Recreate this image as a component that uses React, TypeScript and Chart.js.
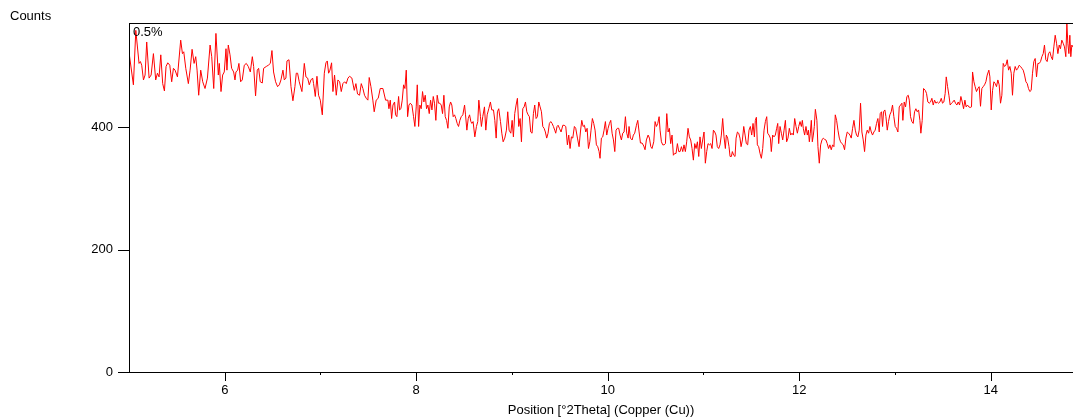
import React, { useEffect, useRef } from 'react';
import { Chart, registerables } from 'chart.js';

Chart.register(...registerables);

const twoTheta = [
  5.002,5.046,5.071,5.105,5.119,5.133,5.151,5.168,5.185,5.210,5.231,5.255,5.279,5.297,5.314,5.332,5.352,5.370,5.387,5.405,5.426,5.446,5.464,5.481,5.506,5.540,5.558,5.572,5.593,5.620,5.638,5.659,5.680,5.697,5.711,5.728,5.749,5.770,5.794,5.819,5.847,5.864,5.885,
  5.908,5.933,5.943,5.961,5.978,5.995,6.013,6.023,6.037,6.055,6.072,6.093,6.107,6.117,6.135,6.148,6.166,6.183,6.204,6.225,6.246,6.267,6.288,6.302,6.322,6.340,6.354,6.371,6.392,6.406,6.434,6.455,6.476,6.493,6.510,6.531,6.552,6.570,6.587,6.608,6.622,6.639,6.650,6.671,6.692,6.712,6.733,6.747,6.761,6.778,
  6.806,6.831,6.848,6.866,6.883,6.900,6.918,6.928,6.946,6.963,6.980,6.998,7.019,7.040,7.057,7.071,7.085,7.099,7.116,7.130,7.147,7.165,7.182,7.200,7.217,7.234,7.252,7.269,7.287,7.304,7.328,7.353,7.370,7.387,7.408,7.426,7.443,7.460,7.478,7.495,7.509,7.527,7.547,7.561,7.582,7.603,7.624,7.652,7.680,
  7.704,7.715,7.729,7.743,7.757,7.774,7.784,7.798,7.816,7.826,7.840,7.854,7.868,7.882,7.896,7.910,7.924,7.938,7.955,7.972,7.986,8.000,8.011,8.025,8.038,8.052,8.066,8.080,8.094,8.108,8.122,8.136,8.150,8.164,8.178,8.191,8.205,8.219,8.233,8.247,8.261,8.275,8.289,8.303,8.317,8.331,8.345,8.359,8.372,8.386,8.400,8.414,8.428,8.442,8.456,8.470,8.487,8.505,8.515,8.529,8.543,8.557,8.571,8.581,
  8.594,8.612,8.629,8.643,8.654,8.671,8.681,8.695,8.713,8.727,8.741,8.758,8.775,8.789,8.807,8.821,8.835,8.848,8.862,8.880,8.894,8.908,8.925,8.942,8.956,8.970,8.988,9.002,9.015,9.029,9.043,9.057,9.071,9.085,9.099,9.113,9.127,9.141,9.155,9.169,9.182,9.196,9.210,9.224,9.238,9.252,9.266,9.280,9.294,9.308,9.322,9.336,9.349,9.363,9.377,9.391,9.405,9.419,9.433,9.447,9.457,9.471,9.482,
  9.496,9.513,9.531,9.545,9.562,9.579,9.593,9.607,9.621,9.635,9.652,9.666,9.684,9.701,9.715,9.729,9.743,9.757,9.771,9.785,9.799,9.813,9.826,9.840,9.854,9.868,9.882,9.896,9.910,9.920,9.934,9.948,9.962,9.976,9.990,10.004,10.018,10.032,10.046,10.060,10.074,10.087,10.101,10.115,10.129,10.143,10.157,10.171,10.185,10.199,10.213,10.223,10.237,10.255,10.268,10.282,10.300,10.314,10.328,10.342,10.359,10.377,
  10.390,10.404,10.422,10.436,10.450,10.463,10.481,10.495,10.509,10.523,10.537,10.547,10.561,10.575,10.589,10.603,10.617,10.631,10.644,10.658,10.672,10.686,10.700,10.714,10.728,10.742,10.756,10.770,10.784,10.797,10.811,10.825,10.839,10.853,10.867,10.881,10.895,10.909,10.923,10.937,10.951,10.964,10.978,10.992,11.006,11.020,11.034,11.048,11.062,11.076,11.090,11.104,11.118,11.131,11.145,11.159,11.173,11.187,11.201,11.215,11.229,11.239,11.253,11.267,11.278,
  11.292,11.302,11.316,11.330,11.341,11.355,11.368,11.382,11.393,11.407,11.421,11.435,11.448,11.462,11.476,11.490,11.504,11.518,11.532,11.542,11.553,11.563,11.577,11.591,11.605,11.619,11.633,11.647,11.661,11.671,11.685,11.699,11.709,11.723,11.737,11.751,11.765,11.776,11.786,11.800,11.814,11.828,11.842,11.856,11.869,11.883,11.897,11.911,11.925,11.939,11.953,11.967,11.981,11.995,12.009,12.023,12.033,12.043,12.057,12.071,12.085,12.096,12.106,12.116,12.127,12.137,12.148,12.158,12.169,
  12.185,12.196,12.210,12.224,12.238,12.252,12.265,12.279,12.293,12.307,12.321,12.335,12.349,12.363,12.377,12.391,12.405,12.419,12.432,12.446,12.460,12.474,12.488,12.502,12.516,12.530,12.544,12.558,12.572,12.586,12.599,12.613,12.627,12.641,12.655,12.669,12.683,12.697,12.711,12.725,12.739,12.753,12.766,12.780,12.794,12.808,12.822,12.836,12.846,12.860,12.871,12.881,12.895,12.906,12.920,12.933,12.947,12.961,12.975,12.989,13.003,13.017,13.031,13.045,13.059,13.073,
  13.083,13.097,13.111,13.125,13.139,13.150,13.163,13.177,13.191,13.205,13.219,13.233,13.247,13.261,13.271,13.285,13.299,13.317,13.330,13.344,13.358,13.372,13.386,13.400,13.414,13.428,13.442,13.456,13.470,13.484,13.497,13.511,13.525,13.536,13.550,13.564,13.577,13.591,13.605,13.619,13.633,13.647,13.661,13.675,13.689,13.703,13.717,13.731,13.744,13.758,13.772,13.786,13.800,13.811,13.825,13.838,13.852,13.866,13.880,13.894,13.908,13.922,13.936,13.950,13.964,
  13.981,13.992,14.006,14.020,14.034,14.048,14.061,14.075,14.089,14.103,14.117,14.131,14.145,14.159,14.173,14.187,14.201,14.215,14.228,14.242,14.256,14.270,14.284,14.298,14.312,14.326,14.340,14.354,14.368,14.382,14.395,14.409,14.423,14.437,14.451,14.465,14.479,14.493,14.507,14.521,14.535,14.549,14.562,14.576,14.590,14.604,14.618,14.632,14.646,14.660,14.674,14.688,14.702,14.716,14.729,14.743,14.757,14.771,14.785,14.796,14.806,14.817,14.827,14.837,14.848,14.858,
];

const counts = [
  520,469,558,504,507,501,477,485,539,480,485,520,477,488,482,518,471,459,499,505,501,474,496,493,482,542,520,523,496,471,493,527,504,515,493,452,493,474,463,480,534,515,463,
  553,485,504,458,485,490,528,493,534,518,496,490,477,490,493,504,474,477,501,504,499,490,515,499,451,493,496,474,472,496,499,501,504,525,490,474,466,469,477,493,477,480,508,510,466,443,466,488,488,474,
  458,504,482,480,469,477,480,471,450,483,452,444,420,488,505,508,488,493,505,458,485,452,477,474,458,471,474,471,480,483,480,460,471,454,452,471,463,452,447,444,481,466,444,425,444,447,463,463,444,
  444,430,444,414,436,441,420,417,450,428,430,444,469,463,493,417,436,439,436,417,401,433,469,401,436,430,458,441,452,430,436,422,444,428,450,439,411,452,439,439,436,422,452,417,411,398,433,441,436,417,420,414,406,401,411,417,420,436,420,395,414,420,409,406,
  409,384,401,409,444,417,401,417,433,395,420,430,441,428,428,411,382,425,430,409,390,376,382,395,425,395,390,411,384,422,436,447,401,414,376,430,433,441,425,420,417,392,390,422,436,414,417,441,433,425,401,398,392,382,390,406,409,406,401,395,390,401,403,
  398,392,403,403,401,371,387,365,384,382,401,398,382,368,392,411,401,403,392,398,365,376,395,414,406,395,371,368,360,349,382,384,395,409,387,398,406,411,390,379,360,395,398,398,387,379,390,392,417,390,382,401,382,379,387,390,403,411,392,374,374,369,
  363,379,387,382,368,365,376,409,401,406,417,395,376,371,371,373,422,392,398,373,387,354,357,357,373,360,360,368,360,371,360,376,398,384,379,365,346,373,365,376,352,384,365,379,392,341,360,373,371,373,365,395,392,387,368,365,371,387,414,384,365,387,382,368,352,
  352,360,354,352,382,392,390,382,368,379,401,387,373,371,395,401,387,406,384,411,416,371,368,357,349,365,395,409,417,390,387,382,360,387,384,387,398,406,373,401,390,379,395,411,376,382,398,387,390,387,414,401,390,401,409,401,411,398,387,401,387,395,376,390,411,376,387,401,429,
  411,368,341,371,379,382,380,379,373,365,371,363,371,368,420,411,395,382,376,373,371,363,382,392,390,387,382,398,411,395,387,384,395,439,392,379,360,387,395,390,401,392,387,392,395,406,414,392,422,425,401,425,428,417,395,409,420,425,436,417,401,398,392,433,436,439,
  411,441,433,450,452,444,417,409,406,425,430,425,428,411,390,411,463,460,455,441,439,441,447,436,444,439,441,439,441,447,439,441,455,482,466,452,436,439,441,444,439,436,441,436,450,441,430,444,433,436,433,432,433,490,474,466,458,463,466,434,463,466,469,474,485,
  493,482,428,460,474,471,466,477,469,439,452,504,499,501,510,493,499,488,452,488,499,493,496,501,499,496,493,485,474,471,463,458,460,488,507,512,482,504,504,507,515,520,534,510,507,520,523,515,510,531,550,537,520,534,528,542,537,531,515,569,537,520,550,515,534,531,
];

const xMin = 5;
const xMax = 14.86;
const yMin = 0;
const yMax = 570;
const xTickValues = [5, 6, 7, 8, 9, 10, 11, 12, 13, 14];
const xLabelValues = [6, 8, 10, 12, 14];
const yTickValues = [0, 200, 400];
const xAxisTitle = 'Position [°2Theta] (Copper (Cu))';
const yAxisTitle = 'Counts';
const scanLabel = '0.5%';

const FONT = "'Liberation Sans', Arial, sans-serif";

const axesPlugin = {
  id: 'xrdAxes',
  afterDraw(chart: any) {
    const { ctx, chartArea: a, scales } = chart;
    const x = scales.x;
    const y = scales.y;
    ctx.save();
    ctx.strokeStyle = '#000';
    ctx.lineWidth = 1;
    ctx.beginPath();
    // frame: left axis, bottom axis, top border
    ctx.moveTo(a.left + 0.5, a.top);
    ctx.lineTo(a.left + 0.5, a.bottom + 1);
    ctx.moveTo(a.left, a.bottom + 0.5);
    ctx.lineTo(a.right, a.bottom + 0.5);
    ctx.moveTo(a.left, a.top + 0.5);
    ctx.lineTo(a.right, a.top + 0.5);
    // y ticks
    yTickValues.forEach((v) => {
      const py = Math.round(y.getPixelForValue(v)) + 0.5;
      ctx.moveTo(a.left - 11, py);
      ctx.lineTo(a.left, py);
    });
    // x ticks (major at labelled values, minor otherwise)
    xTickValues.forEach((v) => {
      if (v === xMin) return;
      const px = Math.round(x.getPixelForValue(v)) + 0.5;
      const len = xLabelValues.includes(v) ? 9 : 3;
      ctx.moveTo(px, a.bottom);
      ctx.lineTo(px, a.bottom + len);
    });
    ctx.stroke();

    ctx.fillStyle = '#000';
    ctx.font = `13px ${FONT}`;
    ctx.textBaseline = 'middle';
    ctx.textAlign = 'left';
    ctx.fillText(yAxisTitle, 10, 16);
    ctx.fillText(scanLabel, a.left + 4, a.top + 9);
    ctx.restore();
  },
};

export default function App() {
  const canvasRef = useRef<HTMLCanvasElement | null>(null);

  useEffect(() => {
    const canvas = canvasRef.current;
    if (!canvas) return;
    const points = twoTheta.map((t, i) => ({ x: t, y: counts[i] }));
    const chart = new Chart(canvas, {
      type: 'line',
      data: {
        datasets: [
          {
            label: 'scan',
            data: points,
            borderColor: '#ff0000',
            borderWidth: 1,
            pointRadius: 0,
            tension: 0,
            fill: false,
          },
        ],
      },
      options: {
        animation: false,
        responsive: false,
        devicePixelRatio: 1,
        layout: { padding: { top: 23, right: 0, left: 0, bottom: 0 } },
        plugins: {
          legend: { display: false },
          tooltip: { enabled: false },
        },
        scales: {
          x: {
            type: 'linear',
            position: 'bottom',
            min: xMin,
            max: xMax,
            afterBuildTicks: (s: any) => {
              s.ticks = xTickValues.map((v) => ({ value: v }));
            },
            afterFit: (s: any) => {
              s.height = 47;
            },
            grid: { display: true, drawOnChartArea: false, drawTicks: true, tickLength: 9, color: 'rgba(0,0,0,0)' },
            border: { display: false },
            ticks: {
              autoSkip: false,
              maxRotation: 0,
              padding: 2,
              color: '#000',
              font: { family: FONT, size: 13 },
              callback: (v: any) => (xLabelValues.includes(Number(v)) ? String(v) : ''),
            },
            title: {
              display: true,
              text: xAxisTitle,
              color: '#000',
              font: { family: FONT, size: 13 },
              padding: { top: 0, bottom: 1 },
            },
          },
          y: {
            type: 'linear',
            position: 'left',
            min: yMin,
            max: yMax,
            afterBuildTicks: (s: any) => {
              s.ticks = yTickValues.map((v) => ({ value: v }));
            },
            afterFit: (s: any) => {
              s.width = 129;
            },
            grid: { display: true, drawOnChartArea: false, drawTicks: true, tickLength: 11, color: 'rgba(0,0,0,0)' },
            border: { display: false },
            ticks: {
              padding: 5,
              color: '#000',
              font: { family: FONT, size: 13 },
            },
          },
        },
      },
      plugins: [axesPlugin],
    });
    return () => chart.destroy();
  }, []);

  return (
    <div style={{ position: 'absolute', left: 0, top: 0, width: 1073, height: 419, background: '#fff' }}>
      <canvas ref={canvasRef} width={1073} height={419} style={{ display: 'block' }} />
    </div>
  );
}
